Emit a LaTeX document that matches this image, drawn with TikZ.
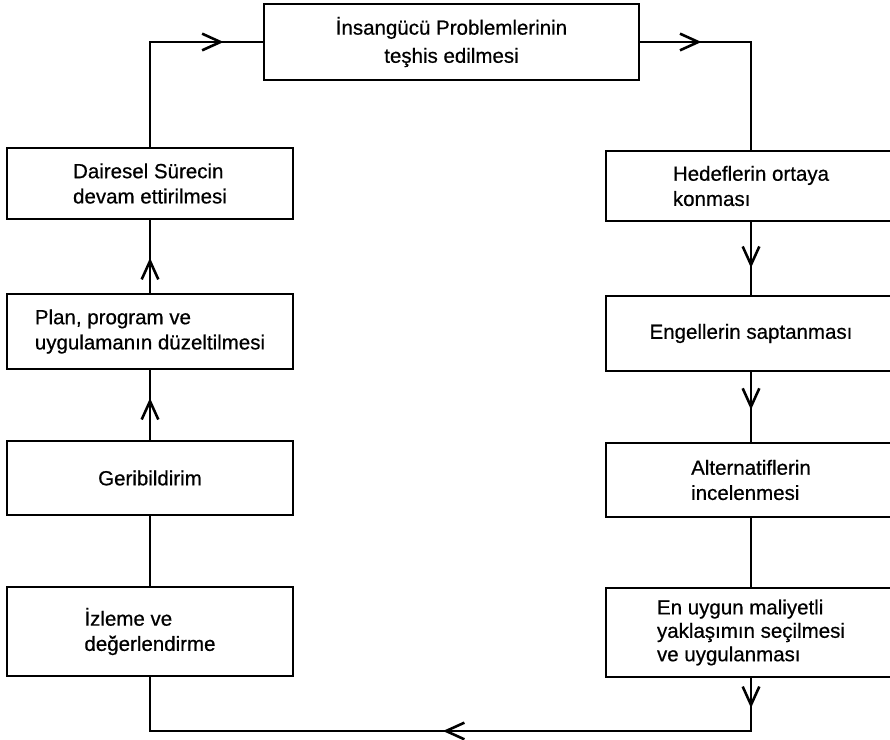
\documentclass[tikz,border=0pt]{standalone}
\usepackage{fontspec}
\setmainfont{Liberation Sans}[FakeBold=0.6,AutoFakeBold=0.6]
\usetikzlibrary{arrows.meta,decorations.markings}
\begin{document}
\begin{tikzpicture}[x=0.03cm,y=-0.03cm,
    box/.style={draw,line width=2.2pt,align=left,minimum width=8.58cm,font=\fontsize{17.5}{21.5}\selectfont\bfseries},
    link/.style={line width=2pt,line join=miter},
    arrowat/.style={postaction={decorate,decoration={markings,mark=at position #1 with {\arrow[line width=2.2pt]{Straight Barb[length=0.55cm,width=0.5cm]}}}}}]
    \useasboundingbox (0,0) rectangle (890,740);
    \node[box,align=center,minimum width=11.25cm,minimum height=2.28cm,font=\fontsize{17.5}{24}\selectfont\bfseries] (top) at (451.5,42) {İnsangücü Problemlerinin\\teşhis edilmesi};
    \node[box,minimum height=2.13cm] (L1) at (150,183.5) {Dairesel Sürecin\\devam ettirilmesi};
    \node[box,minimum height=2.25cm] (L2) at (150,331.5) {Plan, program ve\\uygulamanın düzeltilmesi};
    \node[box,minimum height=2.22cm] (L3) at (150,478) {Geribildirim};
    \node[box,minimum height=2.67cm] (L4) at (150,631.5) {İzleme ve\\değerlendirme};
    \node[box,minimum width=8.7cm,minimum height=2.1cm] (R1) at (751,186) {Hedeflerin ortaya\\konması};
    \node[box,minimum width=8.7cm,minimum height=2.25cm] (R2) at (751,333.5) {Engellerin saptanması};
    \node[box,minimum width=8.7cm,minimum height=2.22cm] (R3) at (751,480) {Alternatiflerin\\incelenmesi};
    \node[box,minimum width=8.7cm,minimum height=2.67cm,font=\fontsize{17.5}{20}\selectfont\bfseries] (R4) at (751,632.5) {En uygun maliyetli\\yaklaşımın seçilmesi\\ve uygulanması};
    \coordinate (bot) at (450,731);
    \draw[link,arrowat=0.82] (L1.north) |- (top.west);
    \draw[link,arrowat=0.28] (top.east) -| (R1.north);
    \draw[link,arrowat=0.63] (R1.south) -- (R2.north);
    \draw[link,arrowat=0.54] (R2.south) -- (R3.north);
    \draw[link] (R3.south) -- (R4.north);
    \draw[link,arrowat=0.042,arrowat=0.51] (R4.south) -- (R4.south |- bot) -- (L4.south |- bot) -- (L4.south);
    \draw[link] (L4.north) -- (L3.south);
    \draw[link,arrowat=0.6] (L3.north) -- (L2.south);
    \draw[link,arrowat=0.48] (L2.north) -- (L1.south);
\end{tikzpicture}
\end{document}
